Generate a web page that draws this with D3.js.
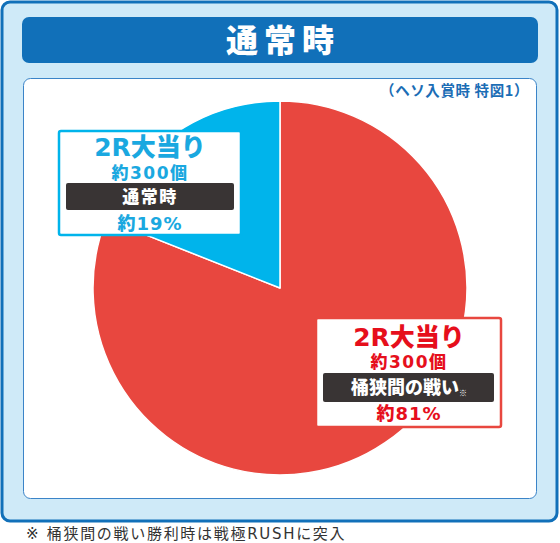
<!DOCTYPE html>
<html>
<head>
<meta charset="utf-8">
<script src="https://cdn.jsdelivr.net/npm/d3@7"></script>
<style>
  body { margin: 0; background: #fff; }
  svg text { font-family: "Noto Sans CJK JP", "Noto Sans", sans-serif; }
  svg text.wide { font-family: "DejaVu Sans", "Noto Sans CJK JP", sans-serif; }
</style>
</head>
<body>
<div id="chart"></div>
<script>
// data
const titleText = "通常時";
const subtitleText = "（ヘソ入賞時 特図1）";
const footnoteText = "※ 桶狭間の戦い勝利時は戦極RUSHに突入";

const sliceKeys = ["battle", "normal"];
const sliceValues = [81, 19];
const sliceColors = ["#e8473f", "#00b4eb"];

const labelHeads = ["2R大当り", "2R大当り"];
const labelCounts = ["約300個", "約300個"];
const labelModes = ["桶狭間の戦い", "通常時"];
const labelMarks = ["※", ""];
const labelShares = ["約81%", "約19%"];
const labelTextColors = ["#e60f1c", "#1aa8e0"];

const width = 560, height = 543;

const svg = d3.select("#chart").append("svg")
  .attr("width", width)
  .attr("height", height);

// outer panel
svg.append("rect")
  .attr("x", 2).attr("y", 2)
  .attr("width", 555).attr("height", 519)
  .attr("rx", 8)
  .attr("fill", "#cfeaf8")
  .attr("stroke", "#1170b9")
  .attr("stroke-width", 3);

// title bar
svg.append("rect")
  .attr("x", 22).attr("y", 17)
  .attr("width", 516).attr("height", 46)
  .attr("rx", 7)
  .attr("fill", "#1170b9");

svg.append("text")
  .attr("x", 283).attr("y", 52)
  .attr("text-anchor", "middle")
  .attr("fill", "#fff")
  .attr("font-size", 32)
  .attr("font-weight", 900)
  .attr("letter-spacing", 6)
  .text(titleText);

// inner white panel
svg.append("rect")
  .attr("x", 23.5).attr("y", 78.5)
  .attr("width", 513).attr("height", 420)
  .attr("rx", 7)
  .attr("fill", "#fff")
  .attr("stroke", "#3b84c8")
  .attr("stroke-width", 1);

svg.append("text")
  .attr("x", 529).attr("y", 96)
  .attr("text-anchor", "end")
  .attr("fill", "#1b6db5")
  .attr("font-size", 14.5)
  .attr("font-weight", 700)
  .attr("letter-spacing", 0.6)
  .text(subtitleText);

// pie
const cx = 280, cy = 288, radius = 187;
const color = d3.scaleOrdinal().domain(sliceKeys).range(sliceColors);

const pie = d3.pie().sort(null).value(d => d.value);
const arc = d3.arc().innerRadius(0).outerRadius(radius);

const slices = sliceKeys.map((k, i) => ({ key: k, value: sliceValues[i] }));

svg.append("g")
  .attr("transform", `translate(${cx},${cy})`)
  .selectAll("path")
  .data(pie(slices))
  .join("path")
  .attr("d", arc)
  .attr("fill", d => color(d.data.key))
  .attr("stroke", "#fff")
  .attr("stroke-width", 1.5)
  .attr("stroke-linejoin", "round");

// label boxes
const boxes = [
  { x: 316, y: 318, w: 185, h: 109, cxText: 409, head: 28, count: 50, bar: 55, barH: 29, share: 102, mode: 18 },
  { x: 59, y: 131, w: 182, h: 104, cxText: 150, head: 25, count: 48, bar: 52, barH: 27, share: 99, mode: 17 }
];

boxes.forEach((b, i) => {
  const g = svg.append("g");
  g.append("rect")
    .attr("x", b.x).attr("y", b.y)
    .attr("width", b.w).attr("height", b.h)
    .attr("rx", 2)
    .attr("fill", "#fff")
    .attr("stroke", sliceColors[i])
    .attr("stroke-width", 2.5);

  const top = b.y;
  g.append("text")
    .attr("class", "wide")
    .attr("x", b.cxText).attr("y", top + b.head)
    .attr("text-anchor", "middle")
    .attr("fill", labelTextColors[i])
    .attr("font-size", 25)
    .attr("font-weight", 900)
    .text(labelHeads[i]);

  g.append("text")
    .attr("class", "wide")
    .attr("x", b.cxText).attr("y", top + b.count)
    .attr("text-anchor", "middle")
    .attr("fill", labelTextColors[i])
    .attr("font-size", 17)
    .attr("font-weight", 900)
    .attr("letter-spacing", 1.5)
    .text(labelCounts[i]);

  g.append("rect")
    .attr("x", b.x + 7).attr("y", top + b.bar)
    .attr("width", b.w - 14).attr("height", b.barH)
    .attr("rx", 2)
    .attr("fill", "#393434");

  const mode = g.append("text")
    .attr("x", b.cxText).attr("y", top + b.bar + b.barH / 2 + b.mode * 0.36)
    .attr("text-anchor", "middle")
    .attr("fill", "#fff")
    .attr("font-size", b.mode)
    .attr("font-weight", 900)
    .attr("letter-spacing", i === 1 ? 1.5 : 0);
  mode.append("tspan").text(labelModes[i]);
  if (labelMarks[i]) {
    mode.append("tspan")
      .attr("font-size", 8)
      .attr("dy", 2)
      .text(labelMarks[i]);
  }

  g.append("text")
    .attr("class", "wide")
    .attr("x", b.cxText).attr("y", top + b.share)
    .attr("text-anchor", "middle")
    .attr("fill", labelTextColors[i])
    .attr("font-size", 18)
    .attr("font-weight", 900)
    .attr("letter-spacing", 1)
    .text(labelShares[i]);
});

// footnote
svg.append("text")
  .attr("class", "wide")
  .attr("x", 26).attr("y", 539)
  .attr("fill", "#333")
  .attr("font-size", 15)
  .attr("letter-spacing", 1.7)
  .text(footnoteText);
</script>
</body>
</html>
